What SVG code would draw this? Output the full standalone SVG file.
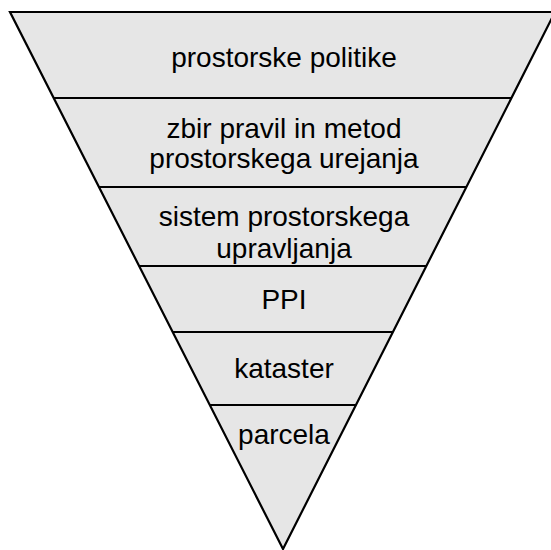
<svg xmlns="http://www.w3.org/2000/svg" width="551" height="550" viewBox="0 0 551 550">
<style>
.t{font-family:"Liberation Sans",Arial,sans-serif;font-size:28px;fill:#000;text-anchor:middle}
.band{fill:#e6e6e6;stroke:none}
.div{stroke:#000;stroke-width:2.2;fill:none}
</style>
<rect width="551" height="550" fill="#fff"/>
<g id="triangle">
<polygon class="band" points="10,12 555,12 283,549"/>
</g>
<g id="connectors">
<line class="div" x1="53.7" y1="98" x2="511.4" y2="98"/>
<line class="div" x1="99" y1="187" x2="466.4" y2="187"/>
<line class="div" x1="139.1" y1="266" x2="426.4" y2="266"/>
<line class="div" x1="172.7" y1="332" x2="392.9" y2="332"/>
<line class="div" x1="209.8" y1="405" x2="356" y2="405"/>
<polygon class="div" points="10,12 555,12 283,549" stroke-linejoin="miter"/>
</g>
<g id="n1"><text class="t" x="284" y="67">prostorske politike</text></g>
<g id="n2"><text class="t" x="284" y="138">zbir pravil in metod</text><text class="t" x="284" y="168">prostorskega urejanja</text></g>
<g id="n3"><text class="t" x="284" y="226">sistem prostorskega</text><text class="t" x="284" y="258">upravljanja</text></g>
<g id="n4"><text class="t" x="284" y="309">PPI</text></g>
<g id="n5"><text class="t" x="284" y="378">kataster</text></g>
<g id="n6"><text class="t" x="284" y="444">parcela</text></g>
</svg>
